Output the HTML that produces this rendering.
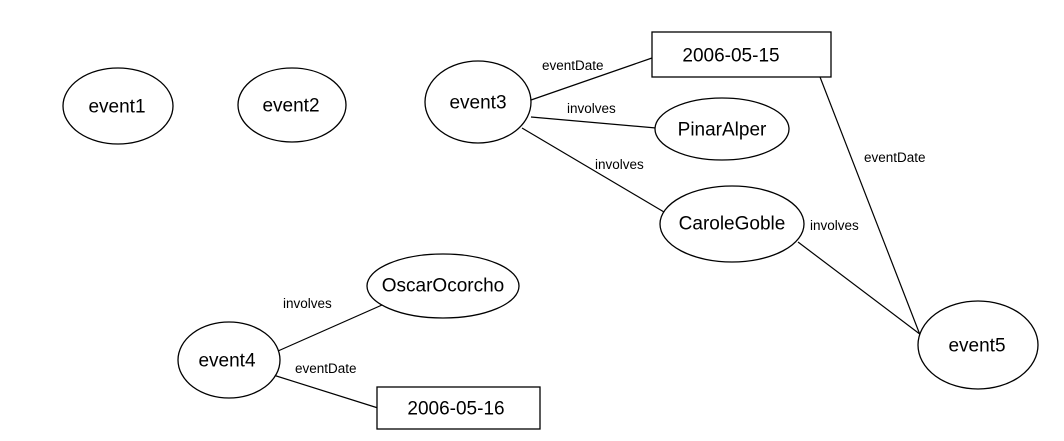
<!DOCTYPE html>
<html><head><meta charset="utf-8"><style>
html,body{margin:0;padding:0;background:#fff;}
svg{display:block;}
.n{font-family:"Liberation Sans",sans-serif;font-size:19px;fill:#000;}
.l{font-family:"Liberation Sans",sans-serif;font-size:13.5px;fill:#000;}
</style></head><body>
<svg width="1064" height="441" viewBox="0 0 1064 441" xmlns="http://www.w3.org/2000/svg">
<g stroke="#000" stroke-width="1.2" fill="none">
<line x1="531" y1="100" x2="652" y2="58"/>
<line x1="531" y1="117" x2="656" y2="128"/>
<line x1="522" y1="128" x2="664" y2="212"/>
<line x1="820" y1="77" x2="922" y2="340"/>
<line x1="798" y1="242" x2="925" y2="338"/>
<line x1="278" y1="351" x2="382" y2="305"/>
<line x1="270" y1="374" x2="378" y2="408"/>
</g>
<g stroke="#000" stroke-width="1.3" fill="#fff">
<ellipse cx="118" cy="106" rx="55" ry="38"/>
<ellipse cx="292" cy="105" rx="54" ry="37"/>
<ellipse cx="478" cy="102" rx="53" ry="41"/>
<rect x="652" y="32" width="179" height="45"/>
<ellipse cx="722" cy="129" rx="67" ry="31"/>
<ellipse cx="732" cy="224" rx="72" ry="38"/>
<ellipse cx="978" cy="345" rx="60" ry="44"/>
<ellipse cx="443" cy="286" rx="76" ry="32"/>
<ellipse cx="229" cy="360" rx="51" ry="38"/>
<rect x="377" y="387" width="163" height="42"/>
</g>
<g class="n" text-anchor="middle" dominant-baseline="central">
<text x="117" y="107">event1</text>
<text x="291" y="106">event2</text>
<text x="478" y="103">event3</text>
<text x="731" y="56">2006-05-15</text>
<text x="722" y="130">PinarAlper</text>
<text x="732" y="224">CaroleGoble</text>
<text x="977" y="346">event5</text>
<text x="443" y="286">OscarOcorcho</text>
<text x="227" y="361">event4</text>
<text x="456" y="409">2006-05-16</text>
</g>
<g class="l">
<text x="542" y="70">eventDate</text>
<text x="567" y="113">involves</text>
<text x="595" y="169">involves</text>
<text x="864" y="162">eventDate</text>
<text x="810" y="230">involves</text>
<text x="283" y="308">involves</text>
<text x="295" y="373">eventDate</text>
</g>
</svg>
</body></html>
